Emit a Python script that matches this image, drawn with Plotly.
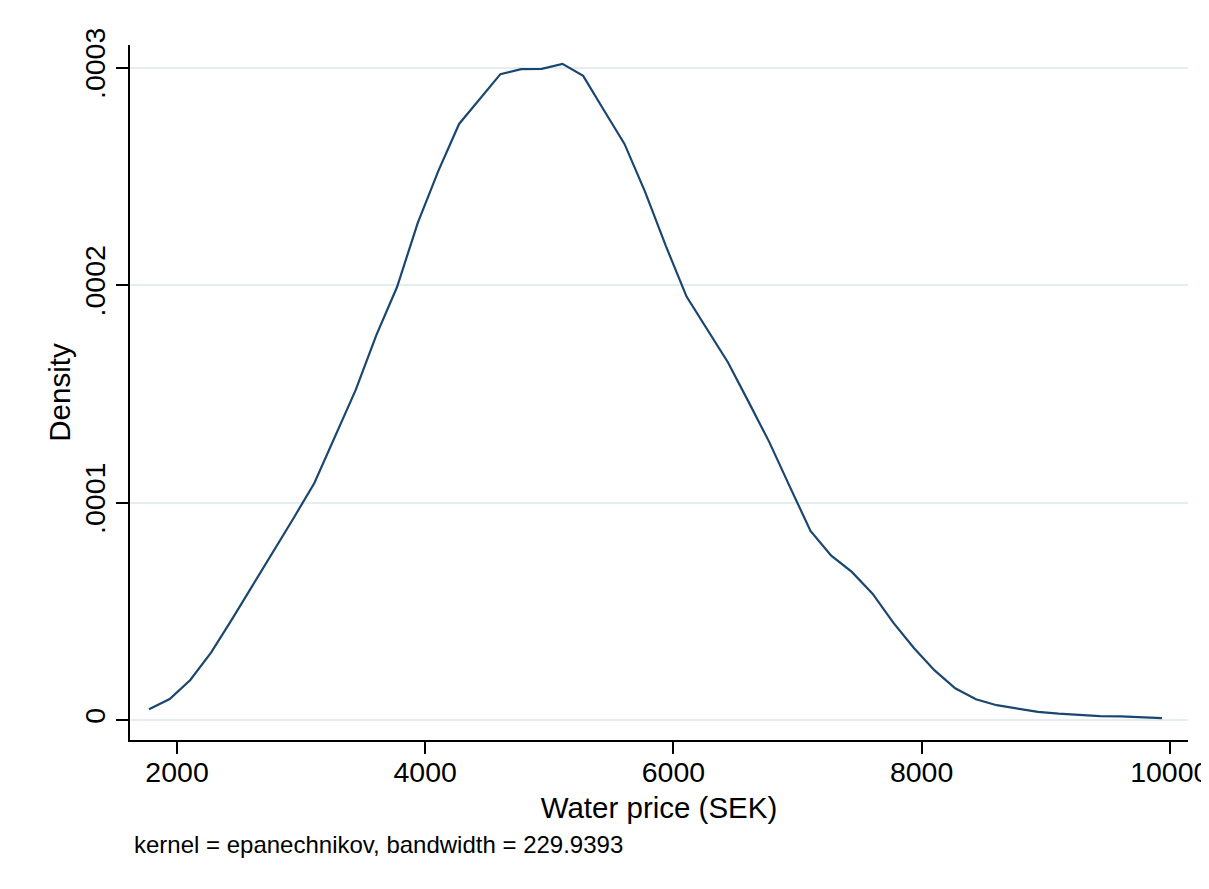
import plotly.graph_objects as go

# Kernel density estimate of water price (SEK), 50 evaluation points
water_price = [1774, 1941, 2107, 2274, 2440, 2607, 2774, 2940, 3107, 3273,
               3440, 3607, 3773, 3940, 4106, 4273, 4440, 4606, 4773, 4939,
               5106, 5273, 5439, 5606, 5772, 5939, 6106, 6272, 6439, 6605,
               6772, 6939, 7105, 7272, 7438, 7605, 7772, 7938, 8105, 8271,
               8438, 8605, 8771, 8938, 9104, 9271, 9438, 9604, 9771, 9937]

density = [0.00000492, 0.00000966, 0.0000184, 0.0000310, 0.0000460, 0.0000616,
           0.0000773, 0.0000929, 0.0001090, 0.0001306, 0.0001518, 0.0001771,
           0.0001991, 0.0002286, 0.0002525, 0.0002741, 0.0002856, 0.0002970,
           0.0002993, 0.0002994, 0.0003017, 0.0002962, 0.0002805, 0.0002649,
           0.0002429, 0.0002180, 0.0001947, 0.0001798, 0.0001645, 0.0001464,
           0.0001279, 0.0001072, 0.0000869, 0.0000756, 0.0000681, 0.0000581,
           0.0000448, 0.0000331, 0.0000228, 0.0000146, 0.0000095, 0.0000068,
           0.0000054, 0.0000037, 0.0000029, 0.0000023, 0.0000018, 0.0000017,
           0.0000013, 0.0000009]

x_tick_vals = [2000, 4000, 6000, 8000, 10000]
x_tick_text = ["2000", "4000", "6000", "8000", "10000"]
y_tick_vals = [0, 0.0001, 0.0002, 0.0003]
y_tick_text = ["0", ".0001", ".0002", ".0003"]

x_title = "Water price (SEK)"
y_title = "Density"
note_text = "kernel = epanechnikov, bandwidth = 229.9393"

FONT = "Liberation Sans, Arial, Helvetica, sans-serif"

fig = go.Figure()
fig.add_trace(go.Scatter(
    x=water_price, y=density, mode="lines",
    line=dict(color="#1a476f", width=2.2),
    showlegend=False, hoverinfo="x+y",
))

# page body has an 8px margin, so the figure is 8px smaller than the window
fig.update_layout(
    width=1201, height=881,
    margin=dict(l=122, r=21, t=37, b=149, autoexpand=False),
    paper_bgcolor="white", plot_bgcolor="white",
    font=dict(family=FONT, size=28, color="black"),
    showlegend=False,
)

fig.update_xaxes(
    range=[1621, 10147], automargin=False,
    tickvals=x_tick_vals, ticktext=x_tick_text,
    ticks="outside", ticklen=12, tickwidth=1.5, tickcolor="black",
    ticklabeloverflow="allow", ticklabelstandoff=-6,
    showline=True, linecolor="black", linewidth=1.5,
    showgrid=False, zeroline=False,
    tickfont=dict(family=FONT, size=28.5, color="black"),
    title=dict(text=x_title, font=dict(family=FONT, size=29.5, color="black"), standoff=10),
)

fig.update_yaxes(
    range=[-0.0000092, 0.0003104], automargin=False,
    tickvals=y_tick_vals, ticktext=y_tick_text,
    tickangle=-90,
    ticks="outside", ticklen=12, tickwidth=1.5, tickcolor="black",
    ticklabeloverflow="allow",
    showline=True, linecolor="black", linewidth=1.5,
    showgrid=True, gridcolor="#e4eef0", gridwidth=2,
    zeroline=False,
    tickfont=dict(family=FONT, size=28.5, color="black"),
    title=dict(text=y_title, font=dict(family=FONT, size=29.5, color="black"), standoff=0),
)

fig.add_annotation(
    text=note_text, xref="paper", yref="paper",
    x=0.002, y=-0.151, xanchor="left", yanchor="middle",
    showarrow=False, font=dict(family=FONT, size=24, color="black"),
)

fig.write_html("out.html")
